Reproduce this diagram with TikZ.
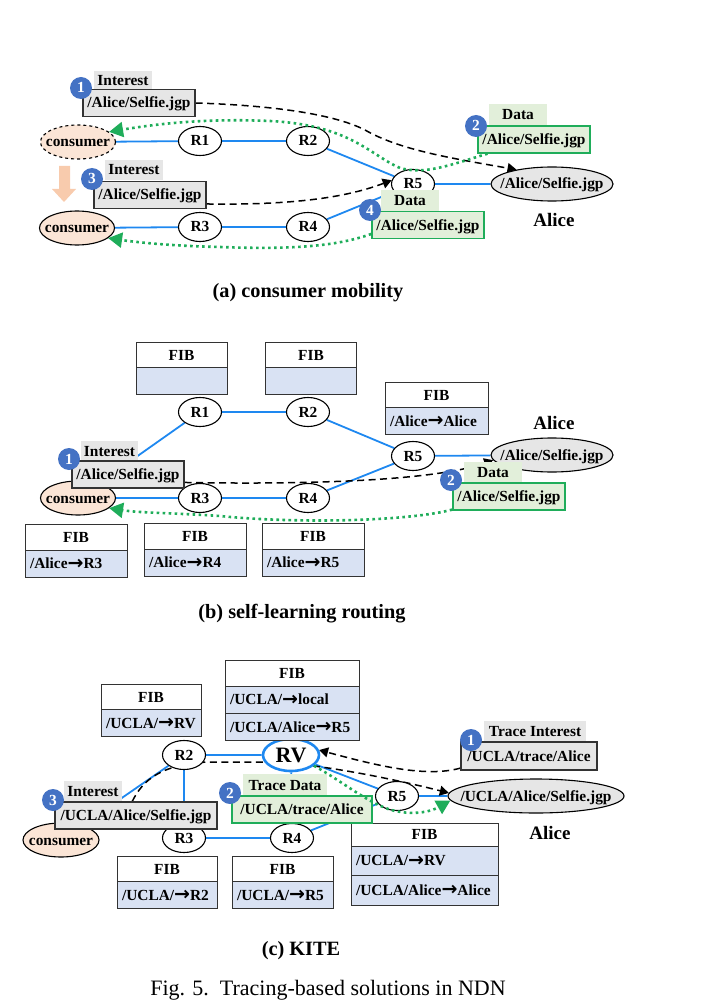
\documentclass[tikz,border=0pt]{standalone}
\usepackage{fontspec}
\setmainfont{Liberation Serif}
\newfontfamily\arrowfont{DejaVu Sans}
\usepackage{tikz}
\usetikzlibrary{arrows.meta, shapes.geometric, backgrounds}
\usepackage{xcolor}
\definecolor{linkblue}{HTML}{1E88F0}
\definecolor{pktgray}{HTML}{E6E6E6}
\definecolor{pktgreen}{HTML}{E2EFDA}
\definecolor{datagreen}{HTML}{1FAD5A}
\definecolor{badgeblue}{HTML}{4472C4}
\definecolor{fibblue}{HTML}{D9E2F3}
\definecolor{peach}{HTML}{FBE5D6}
\definecolor{darrow}{HTML}{F8CBAD}
\newcommand{\fibarrow}{{\arrowfont\fontsize{19}{17}\selectfont\raisebox{-0.8pt}{→}}}
\tikzset{
    router/.style={draw, line width=1.1pt, fill=white, ellipse, inner sep=0pt, minimum width=43pt, minimum height=29pt},
    consumer/.style={draw, line width=1.1pt, fill=peach, ellipse, inner sep=-14pt, minimum width=75pt, minimum height=34pt},
    producer/.style={draw, line width=1.1pt, fill=pktgray, ellipse, inner sep=-14pt, minimum height=34pt},
    namelabel/.style={font=\bfseries\fontsize{19}{21}\selectfont, text height=13pt},
    caption/.style={font=\bfseries\fontsize{20.3}{23}\selectfont, text height=13pt},
    intlabel/.style={fill=pktgray, inner sep=0pt, minimum height=20pt},
    intbox/.style={draw=black!80, line width=1.2pt, fill=pktgray, inner sep=0pt, minimum height=27pt},
    datlabel/.style={fill=pktgreen, inner sep=0pt, minimum height=21pt},
    datbox/.style={draw=datagreen, line width=1.4pt, fill=pktgreen, inner sep=0pt, minimum height=27pt},
    badge/.style={circle, fill=badgeblue, text=white, inner sep=0pt, minimum size=22pt},
    fibhead/.style={draw=black!80, fill=white, thick, inner sep=0pt, minimum height=26pt},
    fibrow/.style={draw=black!80, fill=fibblue, thick, inner ysep=0pt, inner xsep=5pt, minimum height=27pt, text width=#1-10pt},
    link/.style={linkblue, line width=1.8pt},
    request/.style={line width=1.5pt, dash pattern=on 7pt off 4.5pt, -{Triangle[length=9pt, width=10pt]}},
    reply/.style={datagreen, line width=2.6pt, dash pattern=on 2.6pt off 3.4pt, -{Triangle[length=14pt, width=15pt]}}
}

\begin{document}
\begin{tikzpicture}[x=1pt, y=-1pt, every node/.style={font=\bfseries\fontsize{15.4}{17}\selectfont, text height=10pt, text depth=0pt}]
    \useasboundingbox (0, 0) rectangle (702, 1008);

    % (a) consumer mobility
    \begin{scope}
        \node[consumer, dashed] (Ca) at (78, 142) {consumer};
        \node[consumer] (Cb) at (77, 228) {consumer};
        \node[router] (R1a) at (200, 141) {R1};
        \node[router] (R2a) at (308, 141) {R2};
        \node[router] (R3a) at (200, 227) {R3};
        \node[router] (R4a) at (308, 227) {R4};
        \node[router] (R5a) at (413, 184) {R5};
        \node[producer, minimum width=122pt] (Pa) at (552, 184) {/Alice/Selfie.jgp};
        \node[namelabel] (Na) at (554, 220) {Alice};

        % Move of the consumer
        \fill[darrow] (59, 166) -- (70, 166) -- (70, 189) -- (76, 189) -- (64, 202) -- (52, 189) -- (59, 189) -- cycle;

        % Packets
        \node[intlabel, minimum width=58pt] (IntLa) at (123, 81) {Interest};
        \node[intbox, minimum width=112pt] (IntA) at (139, 103) {/Alice/Selfie.jgp};
        \node[badge] (B1a) at (81, 88) {1};
        \node[intlabel, minimum width=58pt] (IntLb) at (134, 170) {Interest};
        \node[intbox, minimum width=112pt] (IntB) at (150, 195) {/Alice/Selfie.jgp};
        \node[badge] (B3a) at (92, 179) {3};
        \node[datlabel, minimum width=58pt] (DatLa) at (518, 115) {Data};
        \node[datbox, minimum width=112pt] (DatA) at (534, 139.5) {/Alice/Selfie.jgp};
        \node[badge] (B2a) at (476, 126) {2};
        \node[datlabel, minimum width=58pt] (DatLb) at (410, 201) {Data};
        \node[datbox, minimum width=112pt] (DatB) at (428, 225) {/Alice/Selfie.jgp};
        \node[badge] (B4a) at (370, 210) {4};

        % Links and the interest paths go under the nodes
        \begin{pgfonlayer}{background}
            \draw[link] (Ca) -- (R1a) -- (R2a) -- (R5a) -- (Pa);
            \draw[link] (Cb) -- (R3a) -- (R4a) -- (R5a);
            \draw[request] (IntA.east) .. controls (260, 105) and (330, 112) .. (365, 130) .. controls (400, 150) and (450, 158) .. (Pa.158);
            \draw[request] (IntB.-9) .. controls (280, 205) and (340, 200) .. (R5a.170);
        \end{pgfonlayer}

        % Data paths
        \draw[reply] (DatA.197) .. controls (450, 165) and (425, 175) .. (400, 168) .. controls (370, 155) and (350, 125) .. (270, 121) .. controls (200, 118) and (150, 125) .. (Ca.18);
        \draw[reply] (DatB.189) .. controls (340, 245) and (300, 250) .. (220, 247) .. controls (170, 246) and (135, 242) .. (Cb.-18);

        \node[caption] (CapA) at (308, 291) {(a) consumer mobility};
    \end{scope}

    % (b) self-learning routing
    \begin{scope}[shift={(0, 271)}]
        \node[consumer] (Cc) at (78, 227) {consumer};
        \node[router] (R1b) at (200, 141) {R1};
        \node[router] (R2b) at (308, 141) {R2};
        \node[router] (R3b) at (200, 227) {R3};
        \node[router] (R4b) at (308, 227) {R4};
        \node[router] (R5b) at (413, 185) {R5};
        \node[producer, minimum width=122pt] (Pb) at (552, 184) {/Alice/Selfie.jgp};
        \node[namelabel] (Nb) at (554, 152) {Alice};

        % FIB tables
        \node[fibhead, minimum width=91pt] (F1h) at (181.5, 84) {FIB};
        \node[fibrow=91pt] (F1r) at (181.5, 110) {};
        \node[fibhead, minimum width=91pt] (F2h) at (311, 84) {FIB};
        \node[fibrow=91pt] (F2r) at (311, 110) {};
        \node[fibhead, minimum width=103pt] (F5h) at (436.5, 124) {FIB};
        \node[fibrow=103pt] (F5r) at (436.5, 150) {/Alice\fibarrow Alice};
        \node[fibhead, minimum width=102pt] (F6h) at (76, 266) {FIB};
        \node[fibrow=102pt] (F6r) at (76, 292.5) {/Alice\fibarrow R3};
        \node[fibhead, minimum width=102pt] (F7h) at (195, 265) {FIB};
        \node[fibrow=102pt] (F7r) at (195, 291.5) {/Alice\fibarrow R4};
        \node[fibhead, minimum width=102pt] (F8h) at (313, 265) {FIB};
        \node[fibrow=102pt] (F8r) at (313, 291.5) {/Alice\fibarrow R5};

        % Packets
        \node[intlabel, minimum width=57pt] (IntLc) at (109.5, 180) {Interest};
        \node[intbox, minimum width=112pt] (IntC) at (128, 203.5) {/Alice/Selfie.jgp};
        \node[badge] (B1b) at (69, 188) {1};
        \node[datlabel, minimum width=58pt] (DatLc) at (493, 201) {Data};
        \node[datbox, minimum width=112pt] (DatC) at (509, 225.5) {/Alice/Selfie.jgp};
        \node[badge] (B2b) at (451, 209) {2};

        % Links and the interest path
        \begin{pgfonlayer}{background}
            \draw[link] (Cc) -- (R1b) -- (R2b) -- (R5b) -- (Pb);
            \draw[link] (Cc) -- (R3b) -- (R4b) -- (R5b);
            \draw[request] (IntC.-8) .. controls (330, 214) and (440, 208) .. (Pb.-175);
        \end{pgfonlayer}

        % Data path
        \draw[reply] (DatC.193) .. controls (410, 250) and (300, 253) .. (220, 245) .. controls (175, 242) and (140, 242) .. (Cc.-18);

        \node[caption] (CapB) at (302, 341) {(b) self-learning routing};
    \end{scope}

    % (c) KITE
    \begin{scope}[shift={(0, 600)}]
        \node[consumer, minimum width=76pt] (Cd) at (61, 240) {consumer};
        \node[router] (R2c) at (184, 155) {R2};
        \node[router] (R3c) at (184, 238) {R3};
        \node[router] (R4c) at (292, 238) {R4};
        \node[router] (R5c) at (397, 196) {R5};
        \node[draw=linkblue, line width=2.6pt, fill=white, ellipse, inner sep=0pt, minimum width=56pt, minimum height=32pt, font=\bfseries\fontsize{22}{24}\selectfont, text height=14.5pt] (RV) at (291, 155) {RV};
        \node[producer, minimum width=176pt] (Pc) at (536, 196) {/UCLA/Alice/Selfie.jgp};
        \node[namelabel] (Nc) at (550, 233) {Alice};

        % FIB tables
        \node[fibhead, minimum width=134pt] (G1h) at (292, 73.5) {FIB};
        \node[fibrow=134pt] (G1r) at (292, 99.5) {/UCLA/\fibarrow local};
        \node[fibrow=134pt] (G1s) at (292, 127) {/UCLA/Alice\fibarrow R5};
        \node[fibhead, minimum width=100pt] (G2h) at (151, 97) {FIB};
        \node[fibrow=100pt] (G2r) at (151, 123) {/UCLA/\fibarrow RV};
        \node[fibhead, minimum width=100pt] (G3h) at (167, 269) {FIB};
        \node[fibrow=100pt] (G3r) at (167, 295) {/UCLA/\fibarrow R2};
        \node[fibhead, minimum width=101pt] (G4h) at (282.5, 269) {FIB};
        \node[fibrow=101pt] (G4r) at (282.5, 295) {/UCLA/\fibarrow R5};
        \node[fibhead, minimum width=147pt, minimum height=23pt] (G5h) at (424.5, 234.5) {FIB};
        \node[fibrow=147pt, minimum height=29pt] (G5r) at (424.5, 260.5) {/UCLA/\fibarrow RV};
        \node[fibrow=147pt, minimum height=30pt] (G5s) at (424.5, 290) {/UCLA/Alice\fibarrow Alice};

        % Packets
        \node[intlabel, minimum width=58pt, minimum height=21pt] (IntLd) at (93, 191.5) {Interest};
        \node[intbox, minimum width=162pt] (IntD) at (136, 215.5) {/UCLA/Alice/Selfie.jgp};
        \node[badge] (B3c) at (53, 200) {3};
        \node[datlabel, minimum width=84pt, minimum height=22pt] (DatLd) at (285, 185) {Trace Data};
        \node[datbox, minimum width=140pt] (DatD) at (302, 209.5) {/UCLA/trace/Alice};
        \node[badge] (B2c) at (230, 193) {2};
        \node[intlabel, minimum width=102pt, minimum height=21pt] (IntLe) at (535, 131.5) {Trace Interest};
        \node[intbox, minimum width=136pt, minimum height=28pt] (IntE) at (529, 156) {/UCLA/trace/Alice};
        \node[badge] (B1c) at (471, 140) {1};

        % Links and the interest paths
        \begin{pgfonlayer}{background}
            \draw[link] (Cd) -- (R2c) -- (RV) -- (R5c) -- (Pc);
            \draw[link] (R2c) -- (R3c) -- (R4c) -- (R5c);
            \draw[link] (RV) -- (R4c);
            \draw[request] (IntE.190) .. controls (425, 178) and (375, 165) .. (RV.10);
            \draw[request] (IntD.105) .. controls (143, 180) and (160, 165) .. (207, 162) -- (263, 162) .. controls (310, 162) and (390, 178) .. (Pc.178);
        \end{pgfonlayer}

        % Data path
        \draw[reply] (RV.-25) .. controls (345, 183) and (370, 205) .. (395, 211) .. controls (415, 215) and (430, 212) .. (Pc.183);

        \node[caption] (CapC) at (301, 349) {(c) KITE};
        \node[font=\fontsize{22}{24}\selectfont, text height=14.5pt] (CapF) at (328, 388) {Fig. 5.\ \ Tracing-based solutions in NDN};
    \end{scope}

\end{tikzpicture}
\end{document}
